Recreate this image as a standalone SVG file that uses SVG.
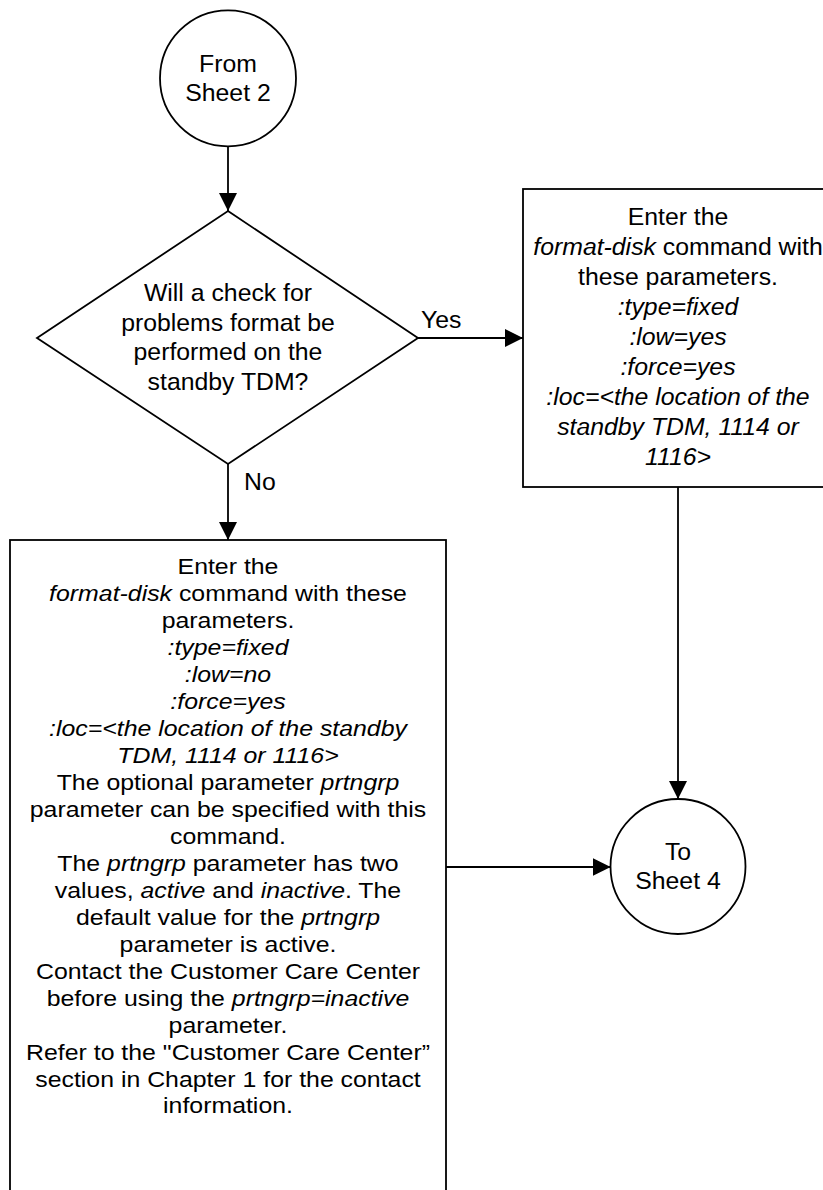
<svg xmlns="http://www.w3.org/2000/svg" width="823" height="1190" viewBox="0 0 823 1190">
<style>
.shape{fill:#fff;stroke:#000;stroke-width:1.8}
.conn{fill:none;stroke:#000;stroke-width:1.8}
text{font-family:"Liberation Sans",Arial,sans-serif;font-size:24.8px;fill:#000}
.c{text-anchor:middle}
.i{font-style:italic}
.s{font-size:22.4px}
</style>
<defs>
<marker id="arr" markerUnits="userSpaceOnUse" markerWidth="18" markerHeight="18" refX="18" refY="9" orient="auto">
<path d="M0,0 L18,9 L0,18 z" fill="#000"/>
</marker>
</defs>
<rect width="823" height="1190" fill="#fff"/>
<g id="connectors">
<line class="conn" x1="228" y1="146.7" x2="228" y2="211" marker-end="url(#arr)"/>
<line class="conn" x1="228" y1="464" x2="228" y2="540" marker-end="url(#arr)"/>
<line class="conn" x1="418" y1="338" x2="523" y2="338" marker-end="url(#arr)"/>
<line class="conn" x1="678" y1="487" x2="678" y2="799" marker-end="url(#arr)"/>
<line class="conn" x1="446" y1="867" x2="610.7" y2="867" marker-end="url(#arr)"/>
<text x="421" y="328">Yes</text>
<text x="244" y="490">No</text>
</g>
<g id="from-sheet-2">
<circle class="shape" cx="228" cy="78.3" r="68"/>
<text class="c" x="228" y="71.5">From</text>
<text class="c" x="228" y="100.5">Sheet 2</text>
</g>
<g id="decision">
<polygon class="shape" points="228,211 418,338 228,464 37,338" stroke-width="1.5"/>
<text class="c" x="228" y="301">Will a check for</text>
<text class="c" x="228" y="331">problems format be</text>
<text class="c" x="228" y="360">performed on the</text>
<text class="c" x="228" y="390">standby TDM?</text>
</g>
<g id="format-low-yes">
<rect class="shape" x="523" y="189" width="310" height="298"/>
<text class="c" x="678" y="225">Enter the</text>
<text class="c" x="678" y="255"><tspan class="i">format-disk</tspan> command with</text>
<text class="c" x="678" y="285">these parameters.</text>
<text class="c i" x="678" y="315">:type=fixed</text>
<text class="c i" x="678" y="345">:low=yes</text>
<text class="c i" x="678" y="375">:force=yes</text>
<text class="c i" x="678" y="405">:loc=&lt;the location of the</text>
<text class="c i" x="678" y="435">standby TDM, 1114 or</text>
<text class="c i" x="678" y="465">1116&gt;</text>
</g>
<g id="format-low-no">
<rect class="shape" x="10" y="540" width="436" height="670"/>
<g transform="translate(228,0) scale(1.11,1)">
<text class="c s" x="0" y="574">Enter the</text>
<text class="c s" x="0" y="601"><tspan class="i">format-disk</tspan> command with these</text>
<text class="c s" x="0" y="628">parameters.</text>
<text class="c s i" x="0" y="655">:type=fixed</text>
<text class="c s i" x="0" y="682">:low=no</text>
<text class="c s i" x="0" y="709">:force=yes</text>
<text class="c s i" x="0" y="736">:loc=&lt;the location of the standby</text>
<text class="c s i" x="0" y="763">TDM, 1114 or 1116&gt;</text>
<text class="c s" x="0" y="790">The optional parameter <tspan class="i">prtngrp</tspan></text>
<text class="c s" x="0" y="817">parameter can be specified with this</text>
<text class="c s" x="0" y="844">command.</text>
<text class="c s" x="0" y="871">The <tspan class="i">prtngrp</tspan> parameter has two</text>
<text class="c s" x="0" y="898">values, <tspan class="i">active</tspan> and <tspan class="i">inactive</tspan>. The</text>
<text class="c s" x="0" y="925">default value for the <tspan class="i">prtngrp</tspan></text>
<text class="c s" x="0" y="952">parameter is active.</text>
<text class="c s" x="0" y="979">Contact the Customer Care Center</text>
<text class="c s" x="0" y="1006">before using the <tspan class="i">prtngrp=inactive</tspan></text>
<text class="c s" x="0" y="1033">parameter.</text>
<text class="c s" x="0" y="1060">Refer to the "Customer Care Center”</text>
<text class="c s" x="0" y="1087">section in Chapter 1 for the contact</text>
<text class="c s" x="0" y="1113">information.</text>
</g>
</g>
<g id="to-sheet-4">
<circle class="shape" cx="678" cy="866.5" r="67.5"/>
<text class="c" x="678" y="860">To</text>
<text class="c" x="678" y="889">Sheet 4</text>
</g>
</svg>
